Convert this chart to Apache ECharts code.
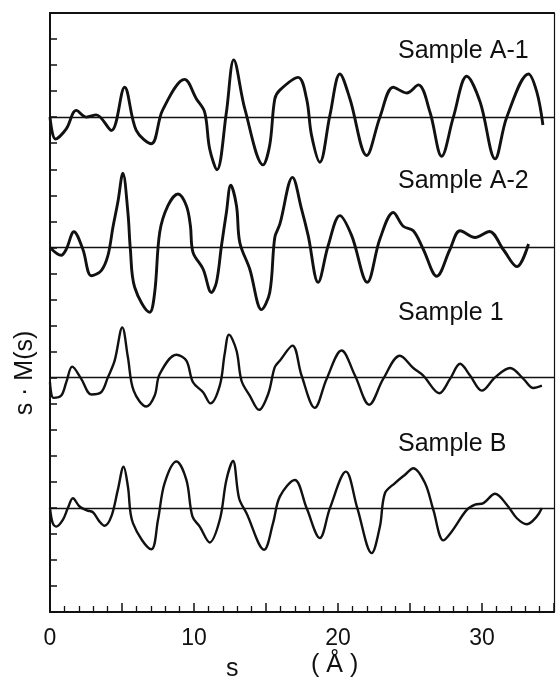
<!DOCTYPE html>
<html>
<head>
<meta charset="utf-8">
<script src="https://cdn.jsdelivr.net/npm/echarts@6/dist/echarts.min.js"></script>
<style>
html,body{margin:0;padding:0;background:#fff;}
#chart{width:557px;height:682px;}
</style>
</head>
<body>
<div id="chart"></div>
<script>
// ---- Data (s in Å^-1, s·M(s) in tick units relative to each curve's baseline) ----
var seriesNames = ["Sample A-1", "Sample A-2", "Sample 1", "Sample B"];
var baselineOffsets = [19, 14, 9, 4];

var sA1 = [0, 0.38, 1.13, 1.82, 2.52, 3.21, 4.26, 5.18, 5.99, 7.04, 7.82, 9.35, 10.17, 10.74, 11.09, 11.6, 12.25, 12.76, 13.53, 14.8, 15.26, 15.61, 15.96, 17.23, 17.82, 18.16, 18.74, 19.44, 20.13, 20.83, 21.99, 22.91, 23.84, 24.77, 25.58, 26.39, 27.2, 28.01, 28.94, 29.87, 30.91, 31.72, 33.23, 33.81, 34.23];
var vA1 = [0, -0.84, -0.45, 0.26, 0, 0.09, -0.51, 1.15, -0.51, -1.02, 0.27, 1.45, 0.70, 0.19, -1.22, -2.02, 0.19, 2.20, 0.32, -1.83, -1.07, 0.70, 1.04, 1.53, 0.70, -0.69, -1.73, 0.08, 1.66, 0.70, -1.47, 0, 1.15, 0.93, 1.24, 0.19, -1.50, 0, 1.57, 0.58, -1.60, 0, 1.66, 0.96, -0.30];

var sA2 = [0, 0.78, 1.13, 1.66, 2.28, 2.87, 3.56, 4.02, 4.37, 4.71, 5.06, 5.41, 5.58, 5.88, 6.92, 7.27, 7.62, 8.19, 8.89, 9.47, 9.75, 9.93, 10.63, 11.21, 11.56, 11.91, 12.25, 12.55, 12.95, 13.18, 13.87, 14.69, 15.26, 15.61, 15.96, 16.84, 17.47, 17.93, 18.62, 19.32, 20.13, 20.95, 22.03, 22.91, 23.84, 24.53, 25.23, 25.92, 26.86, 27.78, 28.48, 29.52, 30.51, 31.49, 32.42, 33.23];
var vA2 = [0, -0.30, -0.07, 0.60, -0.07, -1.09, -0.89, -0.32, 0.77, 1.73, 2.85, 1.34, -0.07, -1.53, -2.49, -1.73, 0.58, 1.60, 2.05, 1.60, 0.83, -0.19, -0.83, -1.73, -1.34, 0.07, 1.34, 2.39, 1.60, 0.19, -0.83, -2.39, -1.73, 0.38, 0.89, 2.69, 1.47, 0.45, -1.34, 0.07, 1.22, 0.45, -1.34, 0.32, 1.34, 0.81, 0.64, -0.07, -1.11, -0.07, 0.64, 0.38, 0.61, -0.09, -0.74, 0.13];

var sS1 = [0, 0.24, 0.78, 1.13, 1.54, 2.17, 2.87, 3.56, 4.02, 4.49, 5.02, 5.41, 5.81, 6.69, 7.27, 7.62, 8.78, 9.47, 9.93, 10.63, 11.14, 11.79, 12.13, 12.43, 12.95, 13.30, 13.87, 14.52, 15.15, 15.61, 15.96, 16.84, 17.47, 18.39, 19.21, 20.25, 21.18, 22.17, 23.14, 24.30, 25.23, 25.92, 27.04, 27.78, 28.48, 29.17, 29.99, 30.91, 31.95, 32.88, 33.57, 34.16];
var vS1 = [-0.18, -0.78, -0.69, -0.18, 0.42, -0.05, -0.65, -0.56, 0.01, 0.65, 1.93, 0.78, -0.50, -1.11, -0.69, 0.14, 0.88, 0.65, -0.18, -0.56, -0.99, -0.31, 0.91, 1.65, 1.04, -0.12, -0.69, -1.24, -0.63, 0.40, 0.65, 1.23, 0.08, -1.16, -0.05, 1.04, 0.08, -1.04, -0.05, 0.84, 0.37, 0.08, -0.60, -0.05, 0.53, 0.08, -0.50, 0.01, 0.37, -0.05, -0.40, -0.31];

var sB = [0, 0.19, 0.43, 0.89, 1.24, 1.59, 2.05, 2.56, 2.98, 3.44, 3.79, 4.26, 4.71, 5.11, 5.41, 5.76, 7.04, 7.50, 7.96, 8.78, 9.47, 9.89, 10.40, 11.09, 11.79, 12.25, 12.71, 13.13, 13.64, 14.87, 15.49, 15.96, 17.00, 17.82, 18.74, 19.44, 20.55, 21.34, 22.34, 22.91, 23.26, 23.96, 24.65, 25.23, 26.04, 26.62, 27.32, 27.90, 28.94, 29.52, 30.10, 30.91, 31.72, 32.42, 33.12, 33.81, 34.16];
var vB = [0, -0.59, -0.72, -0.46, -0.01, 0.37, 0.05, -0.10, -0.17, -0.53, -0.69, -0.33, 0.69, 1.58, 0.82, -0.59, -1.59, -0.46, 0.95, 1.78, 1.07, -0.33, -0.72, -1.33, -0.46, 1.07, 1.80, 0.37, -0.20, -1.61, -0.59, 0.43, 1.07, -0.01, -1.16, -0.01, 1.39, -0.01, -1.74, -0.72, 0.56, 0.95, 1.27, 1.52, 0.95, -0.08, -1.25, -0.91, -0.08, 0.12, 0.18, 0.54, 0.12, -0.40, -0.63, -0.33, -0.01];

var xTickLabels = ["0", "10", "20", "30"];

// ---- Build chart ----
var sArrays = [sA1, sA2, sS1, sB];
var vArrays = [vA1, vA2, vS1, vB];
var lineWidths = [2.9, 2.9, 2.4, 2.4];

var chart = echarts.init(document.getElementById('chart'), null, {renderer: 'canvas'});
var FONT = "'Liberation Sans', Arial, sans-serif";

var series = seriesNames.map(function (name, i) {
  var data = sArrays[i].map(function (s, k) { return [s, vArrays[i][k] + baselineOffsets[i]]; });
  return {
    name: name,
    type: 'line',
    data: data,
    smooth: 0.35,
    showSymbol: false,
    symbol: 'none',
    lineStyle: {color: '#111', width: lineWidths[i]},
    z: 3,
    markLine: {
      silent: true,
      symbol: ['none', 'none'],
      label: {show: false},
      lineStyle: {color: '#111', width: 1.3, type: 'solid'},
      data: [{yAxis: baselineOffsets[i]}]
    }
  };
});

chart.setOption({
  animation: false,
  backgroundColor: '#fff',
  grid: {left: 50, right: 2, top: 13, bottom: 70, containLabel: false},
  xAxis: [{
    type: 'value', min: 0, max: 35, interval: 5,
    axisLine: {show: true, lineStyle: {color: '#111', width: 2}},
    axisTick: {show: true, inside: true, length: 9, lineStyle: {color: '#111', width: 1.5}},
    minorTick: {show: true, splitNumber: 5, length: 6, lineStyle: {color: '#111', width: 1.3}},
    splitLine: {show: false},
    axisLabel: {
      show: true, margin: 15, color: '#111', fontSize: 23, fontFamily: FONT,
      formatter: function (v) { var idx = xTickLabels.indexOf(String(v)); return idx >= 0 ? xTickLabels[idx] : ''; }
    }
  }, {
    type: 'value', min: 0, max: 35, position: 'top',
    axisLine: {show: true, onZero: false, lineStyle: {color: '#111', width: 2}},
    axisTick: {show: false}, axisLabel: {show: false}, splitLine: {show: false}
  }],
  yAxis: [{
    type: 'value', min: 0, max: 23, interval: 1,
    axisLine: {show: true, onZero: false, lineStyle: {color: '#111', width: 2}},
    axisTick: {show: true, inside: true, length: 7, lineStyle: {color: '#111', width: 1.5}},
    axisLabel: {show: false},
    splitLine: {show: false}
  }, {
    type: 'value', min: 0, max: 23, position: 'right',
    axisLine: {show: true, onZero: false, lineStyle: {color: '#111', width: 1.2}},
    axisTick: {show: false}, axisLabel: {show: false}, splitLine: {show: false}
  }],
  graphic: [
    {type: 'text', left: 398, top: 39, style: {text: seriesNames[0], font: '25px ' + FONT, fill: '#111'}},
    {type: 'text', left: 398, top: 169, style: {text: seriesNames[1], font: '25px ' + FONT, fill: '#111'}},
    {type: 'text', left: 398, top: 301, style: {text: seriesNames[2], font: '25px ' + FONT, fill: '#111'}},
    {type: 'text', left: 398, top: 432, style: {text: seriesNames[3], font: '25px ' + FONT, fill: '#111'}},
    {type: 'text', left: 226, top: 657, style: {text: 's', font: '25px ' + FONT, fill: '#111'}},
    {type: 'text', left: 311, top: 653, style: {text: '( Å )', font: '25px ' + FONT, fill: '#111'}},
    {type: 'text', x: 25, y: 373, rotation: Math.PI / 2,
      style: {text: 's · M(s)', font: '25px ' + FONT, fill: '#111', textAlign: 'center', textVerticalAlign: 'middle'}}
  ],
  series: series
});
</script>
</body>
</html>
